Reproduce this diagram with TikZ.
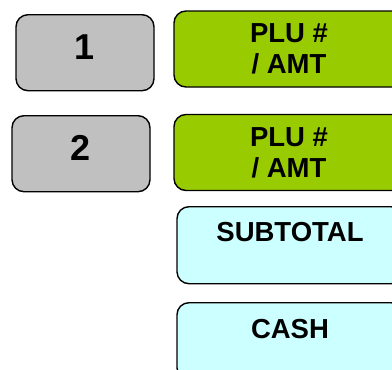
\documentclass[tikz,border=0pt]{standalone}
\usepackage{fontspec}
\setmainfont{Liberation Sans}
\definecolor{numgray}{HTML}{C0C0C0}
\definecolor{plugreen}{HTML}{99CC00}
\definecolor{totcyan}{HTML}{CCFFFF}

\begin{document}
\begin{tikzpicture}[x=1pt,y=-1pt,
    key/.style={draw=black, line width=1.4pt, rounded corners=12pt,
                inner sep=0pt, font=\bfseries\fontsize{27.5}{31}\selectfont},
    numkey/.style={key, fill=numgray, minimum width=138pt, anchor=north,
                   text height=45pt, text depth=31pt,
                   font=\bfseries\fontsize{36}{40}\selectfont},
    plukey/.style={key, fill=plugreen, align=center,
                   minimum width=230pt, minimum height=76pt},
    totkey/.style={key, fill=totcyan, minimum width=226pt, anchor=north}]
    % Picture frame: the keys on the right run past the edge
    \clip (0,0) rectangle (392,370);

    % Number keys
    \node[numkey] (one) at (85,14) {1};
    \node[numkey] (two) at (81,115) {2};

    % PLU keys, one beside each number key
    \node[plukey] (plu one) at (289,49) {PLU \#\\/ AMT};
    \node[plukey] (plu two) at (289,152.5) {PLU \#\\/ AMT};

    % Finishing keys, text at the top
    \node[totkey, text height=35pt, text depth=42pt]
        (subtotal) at (290,206) {SUBTOTAL};
    \node[totkey, text height=36pt, text depth=41pt]
        (cash) at (290,302) {CASH};
\end{tikzpicture}
\end{document}
